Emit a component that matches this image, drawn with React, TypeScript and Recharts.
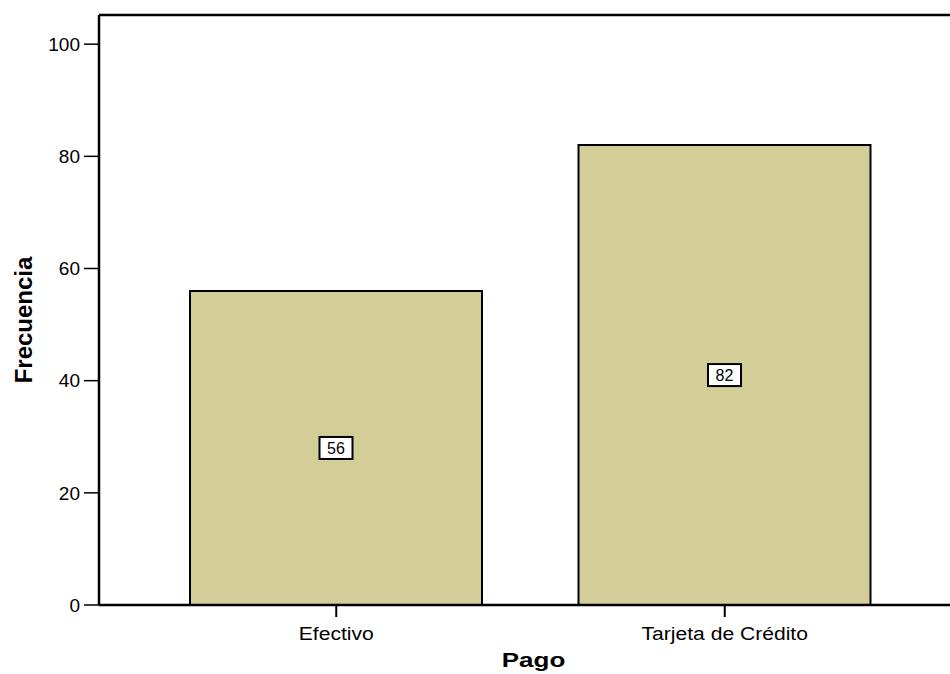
import React from "react";
import { BarChart, Bar, XAxis, YAxis, LabelList, ReferenceLine } from "recharts";

const categories = ["Efectivo", "Tarjeta de Crédito"];
const frecuencias = [56, 82];
const yTicks = [0, 20, 40, 60, 80, 100];
const yMax = 105.2;
const xTitle = "Pago";
const yTitle = "Frecuencia";

const data = categories.map((c, i) => ({ name: c, value: frecuencias[i] }));

const FONT = "'Liberation Sans', Arial, sans-serif";

const XTick = (props: any) => {
  const { x, y, payload } = props;
  return (
    <g transform={`translate(${x},${y + 21}) scale(1.11,1)`}>
      <text x={0} y={0} textAnchor="middle" fontFamily={FONT} fontSize={19} fill="#000">
        {payload.value}
      </text>
    </g>
  );
};

const XTitle = (props: any) => {
  const vb = props.viewBox || {};
  const cx = vb.x + vb.width / 2 + 9;
  return (
    <g transform={`translate(${cx},667) scale(1.3,1)`}>
      <text x={0} y={0} textAnchor="middle" fontFamily={FONT} fontSize={20} fontWeight="bold" fill="#000">
        {xTitle}
      </text>
    </g>
  );
};

const YTitle = (props: any) => {
  const vb = props.viewBox || {};
  const cy = vb.y + vb.height / 2 + 10;
  return (
    <text
      x={32}
      y={cy}
      transform={`rotate(-90, 32, ${cy})`}
      textAnchor="middle"
      fontFamily={FONT}
      fontSize={24}
      fontWeight="bold"
      fill="#000"
    >
      {yTitle}
    </text>
  );
};

const ValueBox = (props: any) => {
  const { x, y, width, height, value } = props;
  const cx = x + width / 2;
  const cy = y + height / 2;
  const w = 33;
  const h = 22;
  return (
    <g>
      <rect x={cx - w / 2} y={cy - h / 2} width={w} height={h} fill="#fff" stroke="#000" strokeWidth={2} />
      <text x={cx} y={cy} dy="0.36em" textAnchor="middle" fontFamily={FONT} fontSize={16} fill="#000">
        {value}
      </text>
    </g>
  );
};

export default function App() {
  return (
    <div style={{ position: "absolute", left: 0, top: 0, width: 950, height: 674, overflow: "hidden", background: "#fff" }}>
      <BarChart width={950} height={674} data={data} margin={{ top: 15, right: 0, bottom: 0, left: 0 }}>
        <XAxis
          dataKey="name"
          height={69}
          padding={{ left: 43, right: 31 }}
          axisLine={{ stroke: "#000", strokeWidth: 2.5 }}
          tickLine={{ stroke: "#000", strokeWidth: 2 }}
          tickSize={12}
          tick={<XTick />}
          interval={0}
          label={<XTitle />}
        />
        <YAxis
          width={99}
          domain={[0, yMax]}
          ticks={yTicks}
          allowDataOverflow
          axisLine={{ stroke: "#000", strokeWidth: 2.5 }}
          tickLine={{ stroke: "#000", strokeWidth: 1.5 }}
          tickSize={15}
          tickMargin={4}
          tick={{ fontFamily: FONT, fontSize: 19, fill: "#000" }}
          label={<YTitle />}
        />
        <ReferenceLine y={yMax} stroke="#000" strokeWidth={2.5} ifOverflow="visible" />
        <Bar dataKey="value" barSize={292} fill="#D3CE98" stroke="#000" strokeWidth={2} isAnimationActive={false}>
          <LabelList dataKey="value" content={<ValueBox />} />
        </Bar>
      </BarChart>
    </div>
  );
}
